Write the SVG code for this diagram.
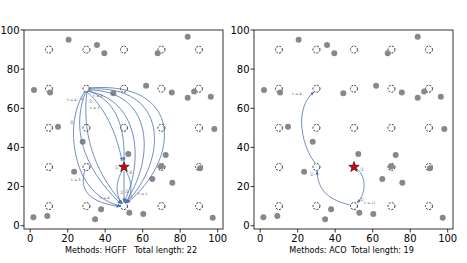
<svg xmlns="http://www.w3.org/2000/svg" xmlns:xlink="http://www.w3.org/1999/xlink" width="467" height="263" viewBox="0 0 467 263">
<style>
.frame{fill:none;stroke:#000;stroke-width:0.8}
.tick{stroke:#000;stroke-width:0.8}
.tl{font-family:"DejaVu Sans","Liberation Sans",sans-serif;font-size:10px;fill:#000}
.tx{text-anchor:middle}
.ty{text-anchor:end}
.cap{font-family:"DejaVu Sans","Liberation Sans",sans-serif;font-size:8.1px;fill:#000}
.site{fill:#fff;stroke:#000;stroke-width:0.8;stroke-dasharray:2 1.3}
.pt{fill:#888}
.path{fill:none;stroke:#4c72b0;stroke-width:0.8}
.lab{font-family:"DejaVu Sans","Noto Sans CJK SC",sans-serif;font-size:3.6px;fill:#555}
.cl{font-family:"DejaVu Sans","Noto Sans CJK SC",sans-serif;font-size:5px;fill:#999}
</style>
<defs>
<marker id="ah" viewBox="0 0 10 10" refX="9" refY="5" markerWidth="4" markerHeight="4" orient="auto" markerUnits="userSpaceOnUse"><path d="M0,1 L10,5 L0,9 z" fill="#4c72b0"/></marker>
<polygon id="star" points="0,-5.5 1.29,-1.78 5.23,-1.7 2.09,0.68 3.23,4.45 0,2.2 -3.23,4.45 -2.09,0.68 -5.23,-1.7 -1.29,-1.78" fill="#e00000" stroke="#000" stroke-width="0.6"/>
<g id="axes">
<rect class="frame" x="24" y="30" width="199" height="199"/>
<g class="tick">
<line x1="30.2" y1="229" x2="30.2" y2="232.5"/><line x1="67.7" y1="229" x2="67.7" y2="232.5"/><line x1="105.2" y1="229" x2="105.2" y2="232.5"/><line x1="142.7" y1="229" x2="142.7" y2="232.5"/><line x1="180.2" y1="229" x2="180.2" y2="232.5"/><line x1="217.7" y1="229" x2="217.7" y2="232.5"/>
<line x1="20.5" y1="225.7" x2="24" y2="225.7"/><line x1="20.5" y1="186.6" x2="24" y2="186.6"/><line x1="20.5" y1="147.4" x2="24" y2="147.4"/><line x1="20.5" y1="108.3" x2="24" y2="108.3"/><line x1="20.5" y1="69.1" x2="24" y2="69.1"/><line x1="20.5" y1="30" x2="24" y2="30"/>
</g>
<g class="tl tx">
<text x="30.2" y="242">0</text><text x="67.7" y="242">20</text><text x="105.2" y="242">40</text><text x="142.7" y="242">60</text><text x="180.2" y="242">80</text><text x="217.7" y="242">100</text>
</g>
<g class="tl ty">
<text x="19.5" y="229.3">0</text><text x="19.5" y="190.2">20</text><text x="19.5" y="151">40</text><text x="19.5" y="111.9">60</text><text x="19.5" y="72.7">80</text><text x="19.5" y="33.6">100</text>
</g>
</g>
<g id="sites">
<circle class="site" cx="48.95" cy="49.6" r="3.5"/><circle class="site" cx="86.45" cy="49.6" r="3.5"/><circle class="site" cx="123.95" cy="49.6" r="3.5"/><circle class="site" cx="161.45" cy="49.6" r="3.5"/><circle class="site" cx="198.95" cy="49.6" r="3.5"/>
<circle class="site" cx="48.95" cy="88.7" r="3.5"/><circle class="site" cx="86.45" cy="88.7" r="3.5"/><circle class="site" cx="123.95" cy="88.7" r="3.5"/><circle class="site" cx="161.45" cy="88.7" r="3.5"/><circle class="site" cx="198.95" cy="88.7" r="3.5"/>
<circle class="site" cx="48.95" cy="127.85" r="3.5"/><circle class="site" cx="86.45" cy="127.85" r="3.5"/><circle class="site" cx="123.95" cy="127.85" r="3.5"/><circle class="site" cx="161.45" cy="127.85" r="3.5"/><circle class="site" cx="198.95" cy="127.85" r="3.5"/>
<circle class="site" cx="48.95" cy="167" r="3.5"/><circle class="site" cx="86.45" cy="167" r="3.5"/><circle class="site" cx="161.45" cy="167" r="3.5"/><circle class="site" cx="198.95" cy="167" r="3.5"/>
<circle class="site" cx="48.95" cy="206.1" r="3.5"/><circle class="site" cx="86.45" cy="206.1" r="3.5"/><circle class="site" cx="123.95" cy="206.1" r="3.5"/><circle class="site" cx="161.45" cy="206.1" r="3.5"/><circle class="site" cx="198.95" cy="206.1" r="3.5"/>
</g>
<g id="points" class="pt">
<circle cx="68.6" cy="39.8" r="3"/><circle cx="97" cy="45.1" r="3"/><circle cx="104.3" cy="53.3" r="3"/><circle cx="34" cy="90.1" r="3"/><circle cx="50.1" cy="92.6" r="3"/><circle cx="113.3" cy="93.2" r="3"/><circle cx="58" cy="126.7" r="3"/>
<circle cx="187.7" cy="36.7" r="3"/><circle cx="157.7" cy="53.3" r="3"/><circle cx="146.1" cy="85.8" r="3"/><circle cx="171.8" cy="92.6" r="3"/><circle cx="187.7" cy="97.7" r="3"/><circle cx="194.1" cy="91.6" r="3"/><circle cx="210.8" cy="96.7" r="3"/><circle cx="214.3" cy="129" r="3"/>
<circle cx="82.7" cy="141.7" r="3"/><circle cx="74.1" cy="171.7" r="3"/><circle cx="33.4" cy="217.3" r="3"/><circle cx="47.3" cy="216" r="3"/><circle cx="101.1" cy="209.3" r="3"/><circle cx="95.1" cy="219.3" r="3"/>
<circle cx="128.3" cy="154" r="3"/><circle cx="165.7" cy="155" r="3"/><circle cx="161" cy="166.6" r="3"/><circle cx="152.3" cy="179" r="3"/><circle cx="172.3" cy="182.7" r="3"/><circle cx="200" cy="168.3" r="3"/><circle cx="129.3" cy="212.7" r="3"/><circle cx="143.3" cy="214" r="3"/><circle cx="212.7" cy="217.7" r="3"/>
</g>
</defs>

<g id="plot-hgff">
<use xlink:href="#axes"/>
<use xlink:href="#sites"/>
<use xlink:href="#points"/>
</g>
<g id="plot-aco">
<use xlink:href="#axes" transform="translate(230,0)"/>
<use xlink:href="#sites" transform="translate(230,0)"/>
<use xlink:href="#points" transform="translate(230,0)"/>
</g>

<g id="connectors-hgff" class="path" marker-end="url(#ah)">
<path d="M88,88 C185,80 180,160 127,203"/>
<path d="M88,89 C170,84 168,160 126,203"/>
<path d="M88,90 C155,90 155,160 125,203"/>
<path d="M87,91 C142,100 143,165 124,202"/>
<path d="M88,91 C118,100 125,130 124,161"/>
<path d="M87,92 C108,110 118,140 122,161"/>
<path d="M85,91 C66,120 74,160 84,178 C92,192 105,203 121,206"/>
<path d="M86,91 C72,125 80,165 121,204"/>
<path d="M87,91 C82,130 92,168 122,203"/>
<path d="M85,170 C78,192 92,203 120,206.5"/>
<path d="M122,171 C114,185 117,197 122,203"/>
<path d="M126,171 C134,185 131,197 126,203"/>
<path d="M124,171 C124,185 124,195 124,202"/>
</g>
<g id="connectors-aco" class="path" marker-end="url(#ah)">
<path d="M357,169 C366,176 367,193 357,203"/>
<path d="M350,205 C330,200 318,192 317,171"/>
<path d="M315,163 C305,150 300,130 302,115 C304,103 308,97 314,92"/>
</g>

<g id="star-hgff"><use xlink:href="#star" transform="translate(124,167)"/></g>
<g id="star-aco"><use xlink:href="#star" transform="translate(354,167)"/></g>

<g id="labels-hgff">
<text class="lab" x="67" y="100.5">tᵢ = 4</text>
<text class="cl" x="79.5" y="99.5">③</text>
<text class="cl" x="88.5" y="102.5">②</text>
<text class="lab" x="93" y="97">tᵢ = 3</text>
<text class="lab" x="90" y="108.5">tᵢ = 2</text>
<text class="cl" x="69.5" y="124">⑤</text>
<text class="lab" x="71" y="180.5">tᵢ = 3</text>
<text class="lab" x="100" y="198.5">tᵢ = 4</text>
<text class="lab" x="138" y="194.5">tᵢ = 1</text>
<text class="cl" x="114.5" y="169">①</text>
<text class="cl" x="128.5" y="173.5">⑥</text>
<text class="cl" x="119.5" y="193.5">②</text>
<text class="cl" x="124.5" y="192.5">③</text>
<text class="cl" x="129" y="197.5">④</text>
</g>
<g id="labels-aco">
<text class="lab" x="292" y="94.5">tᵢ = 4</text>
<text class="cl" x="309.5" y="175.5">②</text>
<text class="cl" x="360" y="171">①</text>
<text class="cl" x="359.5" y="201">②</text>
<text class="lab" x="364" y="203.5">tᵢ = 1)</text>
</g>

<g id="captions">
<text class="cap" x="65" y="253">Methods: HGFF</text>
<text class="cap" x="134.3" y="253">Total length: 22</text>
<text class="cap" x="289.3" y="253">Methods: ACO</text>
<text class="cap" x="351" y="253">Total length: 19</text>
</g>
</svg>
